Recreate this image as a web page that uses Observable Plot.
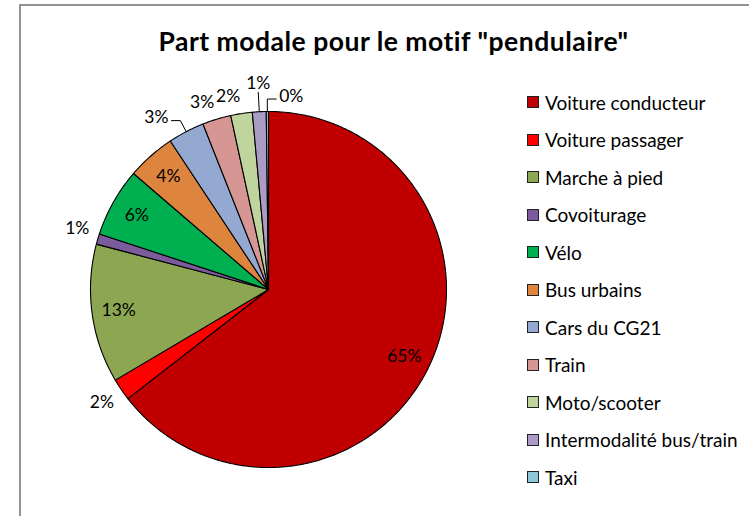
<!DOCTYPE html>
<html>
<head>
<meta charset="utf-8">
<script src="https://cdn.jsdelivr.net/npm/d3@7"></script>
<script src="https://cdn.jsdelivr.net/npm/@observablehq/plot@0.6"></script>
<style>
  html, body { margin: 0; padding: 0; background: #fff; }
  #wrap { position: relative; width: 749px; height: 516px; overflow: hidden; font-family: Lato, "Open Sans", sans-serif; color: #000; }
  #frame { position: absolute; left: 19px; top: 4px; width: 800px; height: 600px; border-top: 2px solid #939393; border-left: 2px solid #939393; box-sizing: border-box; }
  #title { position: absolute; left: 0; width: 787px; top: 28px; text-align: center; font-weight: 700; font-size: 26.5px; letter-spacing: 0.5px; line-height: 26px; white-space: nowrap; }
  #chart { position: absolute; left: 0; top: 0; }
  #legend { position: absolute; left: 527px; top: 0; }
  .row { position: absolute; left: 0; height: 20px; display: flex; align-items: center; white-space: nowrap; font-size: 19px; }
  .sw { width: 10px; height: 10px; border: 1.5px solid #222; margin-right: 6px; flex: none; }
</style>
</head>
<body>
<div id="wrap">
  <div id="frame"></div>
  <div id="chart"></div>
  <div id="title">Part modale pour le motif "pendulaire"</div>
  <div id="legend"></div>
</div>
<script>
const categories = ["Voiture conducteur", "Voiture passager", "Marche à pied", "Covoiturage", "Vélo", "Bus urbains", "Cars du CG21", "Train", "Moto/scooter", "Intermodalité bus/train", "Taxi"];
const values = [64.5, 2.0, 12.6, 0.95, 6.25, 4.4, 3.3, 2.6, 1.95, 1.25, 0.2];
const labels = ["65%", "2%", "13%", "1%", "6%", "4%", "3%", "3%", "2%", "1%", "0%"];
const colors = ["#C00000", "#FF0000", "#8DA652", "#7A5C9C", "#00B050", "#DD843E", "#94A9D2", "#D69694", "#C0D59D", "#AB9CC6", "#8DC8D9"];
const leaderSide = {"Cars du CG21": -1, "Intermodalité bus/train": 0, "Taxi": 1};

const data = categories.map((c, i) => ({cat: c, value: values[i], label: labels[i]}));
const arcs = d3.pie().sort(null).value(d => d.value)(data);

// polygon points for each slice (angle clockwise from 12 o'clock)
const pts = [];
for (const a of arcs) {
  const n = Math.max(2, Math.ceil((a.endAngle - a.startAngle) / (Math.PI / 360)));
  pts.push({cat: a.data.cat, x: 0, y: 0});
  for (let k = 0; k <= n; k++) {
    const t = a.startAngle + (a.endAngle - a.startAngle) * k / n;
    pts.push({cat: a.data.cat, x: Math.sin(t), y: Math.cos(t)});
  }
  pts.push({cat: a.data.cat, x: 0, y: 0});
}

const U = 1 / 178; // data units per pixel (radius = 178px)
const inside = [], outside = [], leaders = [];
for (const a of arcs) {
  const m = (a.startAngle + a.endAngle) / 2;
  const ux = Math.sin(m), uy = Math.cos(m);
  const d = a.data;
  if (d.value >= 4) {
    inside.push({label: d.label, x: 0.85 * ux, y: 0.85 * uy});
  } else if (d.cat in leaderSide) {
    const s = leaderSide[d.cat];
    const r = s === 0 ? 1.11 : 1.07;
    const ex = r * ux, ey = r * uy;
    const hx = ex + s * 9 * U;
    leaders.push({cat: d.cat, x: ux, y: uy}, {cat: d.cat, x: ex, y: ey}, {cat: d.cat, x: hx, y: ey});
    if (s === 0) outside.push({label: d.label, x: ex, y: ey + 9 * U});
    else outside.push({label: d.label, x: hx + s * 15 * U, y: ey + 3 * U});
  } else {
    const ax = 1.05 * ux, ay = 1.05 * uy;
    outside.push({label: d.label, x: ax + Math.sign(ux) * 12 * U, y: ay + Math.sign(uy) * 8 * U});
  }
}

const chart = Plot.plot({
  width: 749,
  height: 516,
  marginLeft: 90,
  marginRight: 303,
  marginTop: 111,
  marginBottom: 49,
  x: {domain: [-1, 1], axis: null},
  y: {domain: [-1, 1], axis: null},
  color: {domain: categories, range: colors},
  style: {fontFamily: "Lato, 'Open Sans', sans-serif", background: "transparent", overflow: "visible"},
  marks: [
    Plot.line(pts, {x: "x", y: "y", z: "cat", fill: "cat", stroke: "#000", strokeWidth: 1.1, strokeLinejoin: "round"}),
    Plot.line(leaders, {x: "x", y: "y", z: "cat", stroke: "#000", strokeWidth: 1}),
    Plot.text(inside, {x: "x", y: "y", text: "label", fontSize: 17.5, fill: "#000"}),
    Plot.text(outside, {x: "x", y: "y", text: "label", fontSize: 17.5, fill: "#000"})
  ]
});
document.getElementById("chart").appendChild(chart);

const legend = document.getElementById("legend");
categories.forEach((c, i) => {
  const row = document.createElement("div");
  row.className = "row";
  row.style.top = (92 + i * 37.5) + "px";
  const sw = document.createElement("span");
  sw.className = "sw";
  sw.style.background = colors[i];
  const tx = document.createElement("span");
  tx.textContent = c;
  row.appendChild(sw);
  row.appendChild(tx);
  legend.appendChild(row);
});
</script>
</body>
</html>
